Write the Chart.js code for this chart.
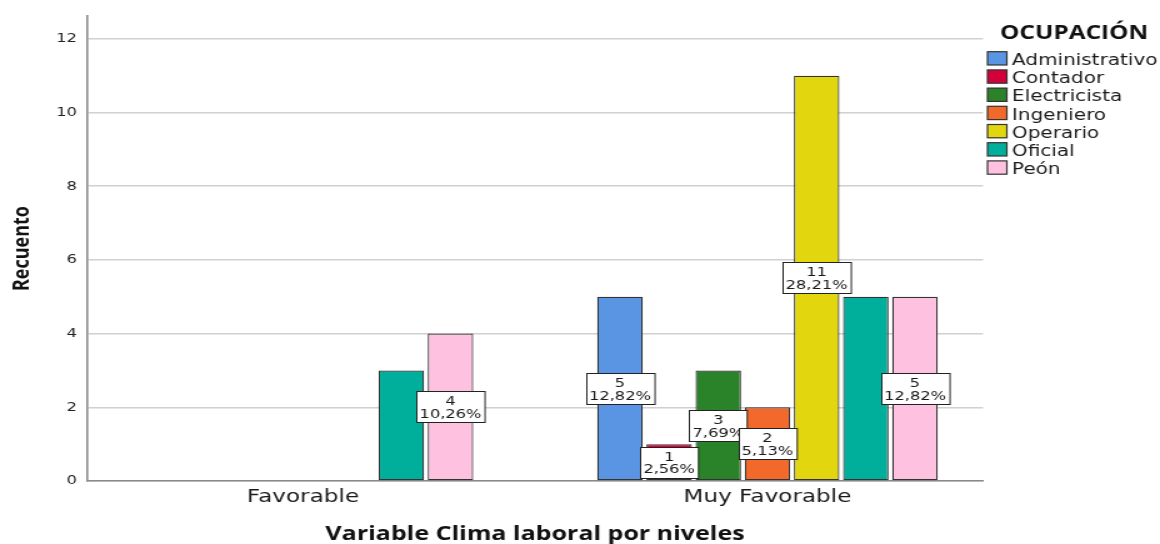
<!DOCTYPE html>
<html>
<head>
<meta charset="utf-8">
<script src="https://cdn.jsdelivr.net/npm/chart.js@4.4.1/dist/chart.umd.min.js"></script>
<style>
  html, body { margin: 0; padding: 0; background: #fff; overflow: hidden; }
  /* the chart is laid out narrower and widened, which gives the wide lettering */
  #marco { width: 928px; height: 544px; transform: scaleX(1.25); transform-origin: 0 0; }
</style>
</head>
<body>
<div id="marco"><canvas id="grafico"></canvas></div>
<script>
// Recuento por nivel de clima laboral y ocupación
const niveles = ['Favorable', 'Muy Favorable'];
const ocupaciones = ['Administrativo', 'Contador', 'Electricista', 'Ingeniero', 'Operario', 'Oficial', 'Peón'];
const administrativo = [null, 5];
const contador = [null, 1];
const electricista = [null, 3];
const ingeniero = [null, 2];
const operario = [null, 11];
const oficial = [3, 5];
const peon = [4, 5];
const ticksY = [0, 2, 4, 6, 8, 10, 12];

// bars that carry a count / percentage box
const conEtiqueta = [
  [false, true],  // Administrativo
  [false, true],  // Contador
  [false, true],  // Electricista
  [false, true],  // Ingeniero
  [false, true],  // Operario
  [false, false], // Oficial
  [true, true]    // Peón
];

const colores = ['#5a95e4', '#d3003a', '#2a8229', '#f3692b', '#e2d60f', '#00af9b', '#fec2e0'];
const series = [administrativo, contador, electricista, ingeniero, operario, oficial, peon];

const total = series.flat().reduce((s, v) => s + (v || 0), 0);

const etiquetas = {
  id: 'etiquetas',
  afterDatasetsDraw(chart) {
    const ctx = chart.ctx;
    ctx.save();
    ctx.font = '13px "DejaVu Sans"';
    ctx.textAlign = 'center';
    ctx.textBaseline = 'alphabetic';
    chart.data.datasets.forEach((ds, i) => {
      const meta = chart.getDatasetMeta(i);
      meta.data.forEach((bar, j) => {
        const v = ds.data[j];
        if (v == null || !conEtiqueta[i][j]) return;
        const pct = (v / total * 100).toFixed(2).replace('.', ',') + '%';
        const cx = bar.x;
        const cy = (bar.y + bar.base) / 2;
        const w = Math.max(ctx.measureText(String(v)).width, ctx.measureText(pct).width) + 5;
        const h = 31;
        const x0 = Math.round(cx - w / 2) + 0.5;
        const y0 = Math.round(cy - h / 2) + 0.5;
        ctx.fillStyle = '#ffffff';
        ctx.fillRect(x0, y0, w, h);
        ctx.strokeStyle = '#222';
        ctx.lineWidth = 1;
        ctx.strokeRect(x0, y0, w, h);
        ctx.fillStyle = '#1a1a1a';
        ctx.fillText(String(v), cx, cy - 1.5);
        ctx.fillText(pct, cx, cy + 11.2);
      });
    });
    ctx.restore();
  }
};

const leyenda = {
  id: 'leyenda',
  afterDraw(chart) {
    const ctx = chart.ctx;
    ctx.save();
    ctx.textAlign = 'left';
    ctx.textBaseline = 'alphabetic';
    ctx.fillStyle = '#111';
    ctx.font = 'bold 19.5px "Open Sans"';
    ctx.fillText('OCUPACIÓN', 800, 39.3);
    ctx.font = '16px "DejaVu Sans"';
    chart.data.datasets.forEach((ds, i) => {
      const y = 51.7 + i * 18.2;
      ctx.fillStyle = ds.backgroundColor;
      ctx.fillRect(790, y, 15.5, 13.3);
      ctx.strokeStyle = '#333';
      ctx.lineWidth = 1.2;
      ctx.strokeRect(790, y, 15.5, 13.3);
      ctx.fillStyle = '#1a1a1a';
      ctx.fillText(ds.label, 809.6, y + 13.3);
    });
    ctx.restore();
  }
};

new Chart(document.getElementById('grafico'), {
  type: 'bar',
  data: {
    labels: niveles,
    datasets: ocupaciones.map((nombre, i) => ({
      label: nombre,
      data: series[i],
      backgroundColor: colores[i],
      borderColor: '#333',
      borderWidth: 1.2,
      borderSkipped: false,
      categoryPercentage: 0.741,
      barPercentage: 0.925
    }))
  },
  options: {
    responsive: true,
    maintainAspectRatio: false,
    animation: false,
    devicePixelRatio: 1,
    layout: { padding: { left: 0, right: 141.6, top: 16, bottom: 0 } },
    plugins: { legend: { display: false }, tooltip: { enabled: false } },
    scales: {
      x: {
        grid: { display: false, drawTicks: false },
        border: { display: true, color: '#8a8a8a', width: 1.6 },
        ticks: { font: { family: 'DejaVu Sans', size: 18.5 }, color: '#1a1a1a', padding: 5 },
        title: {
          display: true,
          text: 'Variable Clima laboral por niveles',
          font: { family: 'Open Sans', weight: 'bold', size: 20, lineHeight: 1 },
          color: '#111',
          padding: { top: 0, bottom: 0 }
        },
        afterFit(s) { s.height = 63; },
        afterBuildTicks(s) { s._startValue = -0.465; s._valueRange = 1.929; }
      },
      y: {
        min: 0,
        max: 12.62,
        ticks: { stepSize: 2, font: { family: 'DejaVu Sans', size: 13 }, color: '#222', padding: 8 },
        afterBuildTicks(s) { s.ticks = ticksY.map(v => ({ value: v })); },
        grid: { color: '#d0d0d0', lineWidth: 1.5, drawTicks: false },
        border: { display: true, color: '#8a8a8a', width: 1.6 },
        title: {
          display: true,
          text: 'Recuento',
          font: { family: 'Open Sans', weight: 'bold', size: 18, lineHeight: 1.2 },
          color: '#111',
          padding: { top: 7.5, bottom: 0 }
        },
        afterFit(s) { s.width = 69.6; }
      }
    }
  },
  plugins: [etiquetas, leyenda]
});
</script>
</body>
</html>
